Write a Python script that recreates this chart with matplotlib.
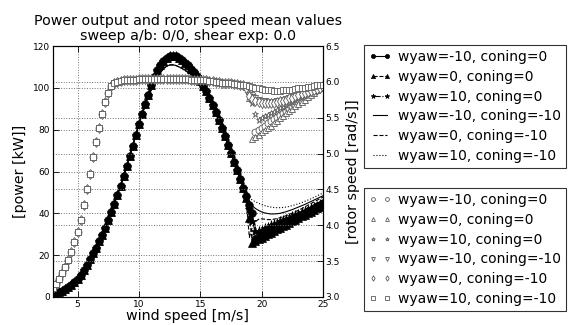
import numpy as np
import matplotlib
matplotlib.use("Agg")
import matplotlib.pyplot as plt

# ---------------- data ----------------
wind = [3.0, 3.25, 3.5, 3.75, 4.0, 4.25, 4.5, 4.75, 5.0, 5.25, 5.5, 5.75, 6.0, 6.25, 6.5, 6.75,
        7.0, 7.25, 7.5, 7.75, 8.0, 8.25, 8.5, 8.75, 9.0, 9.25, 9.5, 9.75, 10.0, 10.25, 10.5, 10.75,
        11.0, 11.25, 11.5, 11.75, 12.0, 12.25, 12.5, 12.75, 13.0, 13.25, 13.5, 13.75, 14.0, 14.25,
        14.5, 14.75, 15.0, 15.25, 15.5, 15.75, 16.0, 16.25, 16.5, 16.75, 17.0, 17.25, 17.5, 17.75,
        18.0, 18.25, 18.5, 18.75, 19.0, 19.25, 19.5, 19.75, 20.0, 20.25, 20.5, 20.75, 21.0, 21.25,
        21.5, 21.75, 22.0, 22.25, 22.5, 22.75, 23.0, 23.25, 23.5, 23.75, 24.0, 24.25, 24.5, 24.75, 25.0]

# power [kW], wind 3.0 .. 18.5 (common part), coning=0
power_c0_base = [1.0, 1.6, 2.2, 2.9, 3.7, 4.7, 5.8, 7.1, 8.6, 10.6, 12.8, 15.3, 18.0, 20.8, 23.6, 26.6,
                 29.8, 33.2, 36.8, 40.6, 44.6, 48.8, 53.2, 57.8, 62.5, 67.4, 72.4, 77.5, 82.6, 87.5, 92.2, 96.6,
                 101.5, 105.3, 108.5, 111.0, 113.0, 114.4, 115.2, 115.4, 115.1, 114.4, 113.4, 112.1, 110.7, 109.2,
                 107.6, 105.7, 103.5, 101.0, 98.3, 95.3, 92.0, 88.5, 84.8, 80.9, 76.9, 72.8, 68.7, 64.6,
                 60.5, 56.4, 52.3]
# power [kW], wind 3.0 .. 18.5 (common part), coning=-10
power_c10_base = [1.0, 1.6, 2.2, 2.9, 3.7, 4.7, 5.8, 7.1, 8.6, 10.6, 12.8, 15.3, 18.0, 20.8, 23.6, 26.6,
                  29.8, 33.2, 36.8, 40.6, 44.6, 48.8, 53.2, 57.8, 62.5, 67.4, 72.4, 77.5, 82.6, 87.0, 91.5, 95.5,
                  99.0, 102.2, 105.0, 107.3, 109.1, 110.3, 110.9, 111.0, 110.7, 110.1, 109.3, 108.4, 107.4, 106.3,
                  105.1, 103.8, 102.3, 100.4, 98.0, 95.3, 92.0, 88.5, 84.8, 80.9, 76.9, 72.8, 68.7, 64.6,
                  60.5, 56.4, 52.3]
# power tails, wind 18.75 .. 25.0
pw_tail_m10_c0 = [48.5, 44.0, 40.0, 27.5, 28.2, 29.0, 29.8, 30.6, 31.4, 32.2, 33.0, 33.8, 34.6, 35.4,
                  36.2, 37.0, 37.8, 38.6, 39.4, 40.2, 41.0, 41.8, 42.6, 43.4, 44.2, 45.0]
pw_tail_0_c0 = [47.5, 38.0, 26.0, 26.8, 27.6, 28.4, 29.1, 29.9, 30.7, 31.5, 32.3, 33.0, 33.8, 34.6,
                35.4, 36.2, 36.9, 37.7, 38.5, 39.3, 40.1, 40.8, 41.6, 42.4, 43.2, 44.0]
pw_tail_10_c0 = [48.0, 42.0, 36.5, 31.5, 31.6, 32.2, 32.9, 33.5, 34.2, 34.8, 35.4, 36.1, 36.7, 37.3,
                 38.0, 38.6, 39.3, 39.9, 40.5, 41.2, 41.8, 42.4, 43.1, 43.7, 44.4, 45.0]
pw_tail_m10_c10 = [47.0, 45.0, 43.5, 42.3, 41.4, 40.7, 40.2, 39.9, 39.7, 39.7, 39.8, 40.0, 40.4, 40.8,
                   41.3, 41.8, 42.4, 43.0, 43.6, 44.2, 44.9, 45.6, 46.3, 47.0, 47.7, 48.4]
pw_tail_0_c10 = [46.0, 28.5, 33.5, 36.0, 37.2, 37.4, 37.2, 37.0, 37.0, 37.2, 37.5, 37.9, 38.4, 38.9,
                 39.5, 40.1, 40.8, 41.5, 42.2, 43.0, 43.8, 44.6, 45.4, 46.2, 47.0, 47.8]
pw_tail_10_c10 = [48.5, 47.3, 46.3, 45.5, 44.8, 44.2, 43.7, 43.3, 43.0, 42.8, 42.7, 42.7, 42.8, 43.0,
                  43.3, 43.7, 44.1, 44.6, 45.1, 45.7, 46.3, 46.9, 47.6, 48.3, 49.0, 49.7]

# rotor speed [rad/s], wind 3.0 .. 18.5 (common part)
rotor_base = [3.12, 3.18, 3.25, 3.33, 3.42, 3.52, 3.63, 3.76, 3.90, 4.08, 4.28, 4.50, 4.72, 4.95, 5.16, 5.36,
              5.55, 5.72, 5.85, 5.94, 5.98, 6.00, 6.01, 6.02, 6.02, 6.03, 6.03, 6.03, 6.04, 6.04, 6.04, 6.04,
              6.04, 6.04, 6.04, 6.04, 6.04, 6.04, 6.04, 6.04, 6.04, 6.04, 6.04, 6.04, 6.04, 6.03,
              6.03, 6.03, 6.03, 6.02, 6.02, 6.01, 6.01, 6.00, 6.00, 5.99, 5.99, 5.98, 5.98, 5.97,
              5.97, 5.96, 5.96]
# rotor speed tails, wind 18.75 .. 25.0
rs_tail_m10_c0 = [5.94, 5.86, 5.81, 5.30, 5.33, 5.36, 5.39, 5.42, 5.45, 5.48, 5.51, 5.54, 5.57, 5.60,
                  5.63, 5.66, 5.68, 5.71, 5.74, 5.77, 5.80, 5.83, 5.86, 5.89, 5.92, 5.95]
rs_tail_0_c0 = [5.93, 5.78, 5.20, 5.23, 5.26, 5.30, 5.33, 5.36, 5.39, 5.43, 5.46, 5.49, 5.52, 5.56,
                5.59, 5.62, 5.66, 5.69, 5.72, 5.75, 5.79, 5.82, 5.85, 5.88, 5.92, 5.95]
rs_tail_10_c0 = [5.94, 5.85, 5.70, 5.55, 5.47, 5.49, 5.52, 5.54, 5.56, 5.58, 5.61, 5.63, 5.65, 5.68,
                 5.70, 5.72, 5.75, 5.77, 5.79, 5.81, 5.84, 5.86, 5.88, 5.91, 5.93, 5.95]
rs_tail_m10_c10 = [5.93, 5.82, 5.79, 5.77, 5.75, 5.74, 5.73, 5.72, 5.72, 5.72, 5.73, 5.74, 5.75, 5.76,
                   5.78, 5.79, 5.81, 5.82, 5.84, 5.85, 5.87, 5.88, 5.90, 5.91, 5.93, 5.94]
rs_tail_0_c10 = [5.92, 5.80, 5.76, 5.74, 5.72, 5.71, 5.70, 5.70, 5.70, 5.71, 5.72, 5.73, 5.74, 5.75,
                 5.77, 5.78, 5.80, 5.81, 5.83, 5.84, 5.86, 5.87, 5.89, 5.90, 5.92, 5.93]
rs_tail_10_c10 = [5.95, 5.94, 5.93, 5.92, 5.91, 5.90, 5.89, 5.88, 5.88, 5.87, 5.87, 5.87, 5.88, 5.88,
                  5.89, 5.89, 5.90, 5.91, 5.91, 5.92, 5.93, 5.93, 5.94, 5.95, 5.95, 5.96]

labels = ["wyaw=-10, coning=0", "wyaw=0, coning=0", "wyaw=10, coning=0",
          "wyaw=-10, coning=-10", "wyaw=0, coning=-10", "wyaw=10, coning=-10"]

power_series = [power_c0_base + pw_tail_m10_c0, power_c0_base + pw_tail_0_c0,
                power_c0_base + pw_tail_10_c0, power_c10_base + pw_tail_m10_c10,
                power_c10_base + pw_tail_0_c10, power_c10_base + pw_tail_10_c10]
rotor_series = [rotor_base + rs_tail_m10_c0, rotor_base + rs_tail_0_c0, rotor_base + rs_tail_10_c0,
                rotor_base + rs_tail_m10_c10, rotor_base + rs_tail_0_c10, rotor_base + rs_tail_10_c10]

# ---------------- styles ----------------
power_styles = [dict(marker='o', ls='-', ms=5.5), dict(marker='^', ls='--', ms=5.5),
                dict(marker='*', ls='-.', ms=6.5), dict(marker=None, ls='-'),
                dict(marker=None, ls='--'), dict(marker=None, ls=':')]
rotor_markers = ['o', '^', '*', 'v', 'd', 's']

plt.rcParams['font.family'] = 'DejaVu Sans'
fig = plt.figure(figsize=(5.73, 3.25), dpi=100)
ax = fig.add_axes([53/573, 1-297/325, 270/573, 251/325])
ax2 = ax.twinx()

for y, st, lab in zip(power_series, power_styles, labels):
    ax.plot(wind, y, color='k', lw=0.8, label=lab, mfc='k', mec='k', mew=0.5, **st)

for y, m, lab in zip(rotor_series, rotor_markers, labels):
    ax2.plot(wind, y, ls='none', marker=m, ms=5.0, mfc='white', mec='0.35', mew=0.6, label=lab)

ax.set_xlim(3, 25)
ax.set_ylim(0, 120)
ax2.set_ylim(3.0, 6.5)
ax.set_xticks([5, 10, 15, 20, 25])
ax.set_yticks([0, 20, 40, 60, 80, 100, 120])
ax2.set_yticks([3.0, 3.5, 4.0, 4.5, 5.0, 5.5, 6.0, 6.5])
ax2.set_yticklabels(['3.0', '3.5', '4.0', '4.5', '5.0', '5.5', '6.0', '6.5'])

for a in (ax, ax2):
    a.tick_params(direction='in', labelsize=6.5, length=4, width=0.6, pad=2)
    for s in a.spines.values():
        s.set_linewidth(0.8)
ax.tick_params(top=True)
ax.grid(True, ls=':', color='0.45', lw=0.7)
ax2.grid(True, axis='y', ls=':', color='0.45', lw=0.7)
ax.set_axisbelow(True)

ax.set_title("Power output and rotor speed mean values\nsweep a/b: 0/0, shear exp: 0.0",
             fontsize=10.3, linespacing=1.1, pad=4)
ax.set_xlabel("wind speed [m/s]", fontsize=10.3, labelpad=0)
ax.set_ylabel("[power [kW]]", fontsize=10.3, labelpad=4)
ax2.set_ylabel("[rotor speed [rad/s]]", fontsize=10.3, labelpad=4)

h1, l1 = ax.get_legend_handles_labels()
h2, l2 = ax2.get_legend_handles_labels()
kw = dict(loc='upper left', fontsize=10.0, numpoints=2, markerscale=0.55, frameon=True,
          fancybox=False, edgecolor='k', borderaxespad=0, labelspacing=0.42,
          handlelength=1.6, borderpad=0.35, handletextpad=0.5)
leg1 = fig.legend(h1, l1, bbox_to_anchor=(364/573, 1-45/325), **kw)
leg2 = fig.legend(h2, l2, bbox_to_anchor=(364/573, 1-188/325), **kw)
for lg in (leg1, leg2):
    lg.get_frame().set_linewidth(0.8)

fig.savefig("out.png", dpi=100)
